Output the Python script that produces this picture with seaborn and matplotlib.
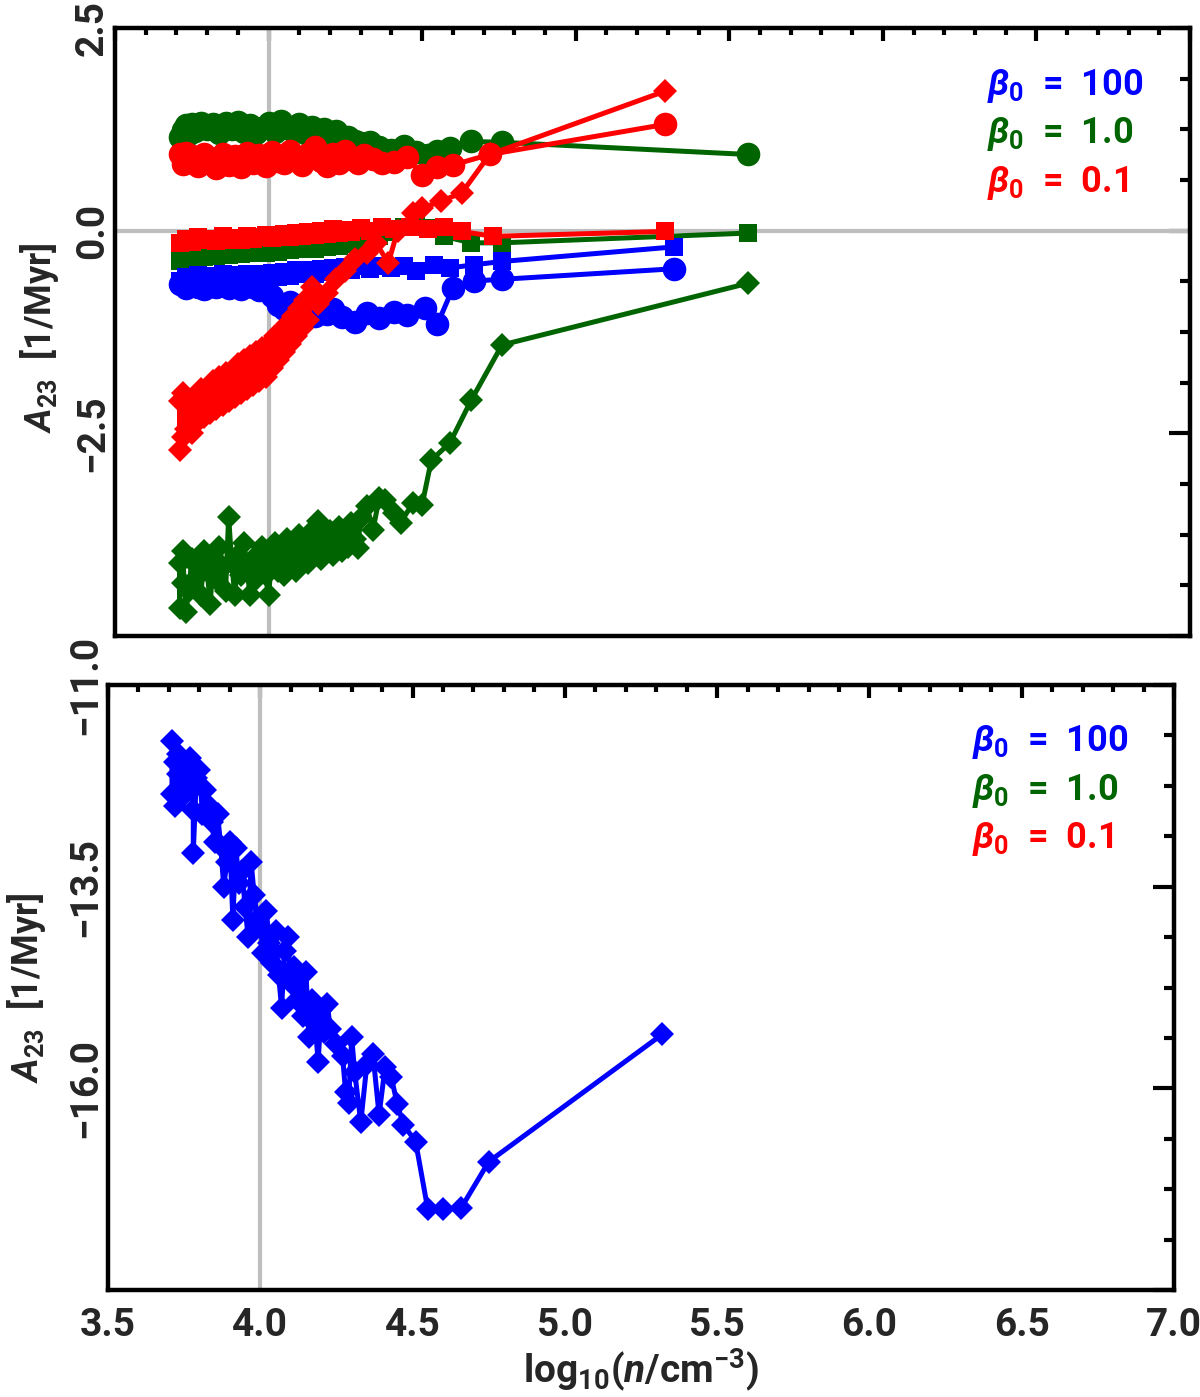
import numpy as np
import seaborn as sns
import matplotlib.pyplot as plt

sns.set_style("white")
plt.rcParams['font.family'] = ['Roboto', 'DejaVu Sans']
plt.rcParams['font.weight'] = 'bold'
plt.rcParams['mathtext.fontset'] = 'custom'
plt.rcParams['mathtext.rm'] = 'Roboto:bold'
plt.rcParams['mathtext.it'] = 'Roboto:bold:italic'
plt.rcParams['mathtext.bf'] = 'Roboto:bold'

BLUE = '#0000ff'
GREEN = '#006400'
RED = '#ff0000'
GRAY = '#bebebe'

# ---- top panel: beta0 = 1.0 circles
g_circ_x = [3.71, 3.72, 3.73, 3.74, 3.75, 3.76, 3.78, 3.80, 3.82, 3.84, 3.86, 3.88, 3.90, 3.92,
            3.94, 3.96, 3.98, 4.00, 4.02, 4.04, 4.06, 4.08, 4.10, 4.12, 4.14, 4.16, 4.18, 4.20,
            4.22, 4.24, 4.26, 4.28, 4.30, 4.33, 4.36, 4.40, 4.44, 4.48, 4.52, 4.55, 4.59, 4.66,
            4.76, 5.56]
g_circ_y = [1.16, 1.24, 1.30, 1.19, 1.31, 1.23, 1.33, 1.25, 1.32, 1.21, 1.33, 1.25, 1.34, 1.22,
            1.30, 1.20, 1.27, 1.33, 1.22, 1.35, 1.27, 1.23, 1.31, 1.21, 1.28, 1.19, 1.26, 1.17,
            1.23, 1.16, 1.15, 1.11, 1.08, 1.09, 1.03, 1.00, 1.04, 0.97, 0.93, 0.98, 1.02, 1.10,
            1.09, 0.94]

# beta0 = 0.1 circles
r_circ_x = [3.71, 3.72, 3.73, 3.74, 3.75, 3.77, 3.79, 3.81, 3.83, 3.85, 3.87, 3.89, 3.91, 3.93,
            3.95, 3.97, 3.99, 4.01, 4.03, 4.05, 4.07, 4.09, 4.11, 4.13, 4.15, 4.17, 4.19, 4.21,
            4.23, 4.25, 4.27, 4.29, 4.31, 4.34, 4.37, 4.41, 4.45, 4.50, 4.55, 4.60, 4.72, 5.29]
r_circ_y = [0.94, 0.82, 0.96, 0.85, 0.92, 0.80, 0.95, 0.83, 0.77, 0.94, 0.81, 0.92, 0.79, 0.96,
            0.84, 0.93, 0.80, 0.97, 0.86, 0.83, 0.98, 0.89, 0.81, 0.94, 1.03, 0.86, 0.80, 0.95,
            0.84, 0.98, 0.88, 0.83, 0.93, 0.88, 0.83, 0.85, 0.91, 0.69, 0.79, 0.81, 0.94, 1.31]

# beta0 = 0.1 squares
r_sq_x = [3.71, 3.73, 3.75, 3.77, 3.79, 3.81, 3.83, 3.85, 3.87, 3.89, 3.91, 3.93, 3.95, 3.97,
          3.99, 4.01, 4.03, 4.05, 4.07, 4.09, 4.11, 4.13, 4.15, 4.17, 4.19, 4.21, 4.23, 4.25,
          4.27, 4.30, 4.33, 4.37, 4.41, 4.46, 4.52, 4.57, 4.63, 4.73, 5.29]
r_sq_y = [-0.15, -0.10, -0.14, -0.08, -0.12, -0.10, -0.13, -0.07, -0.11, -0.09, -0.12, -0.06,
          -0.10, -0.08, -0.05, -0.09, -0.06, -0.04, -0.08, -0.03, -0.06, -0.02, -0.05, 0.00,
          -0.04, 0.02, -0.03, 0.01, -0.02, 0.03, 0.00, 0.04, 0.02, 0.05, 0.02, 0.04, -0.01,
          -0.07, -0.01]

# beta0 = 1.0 squares
g_sq_x = [3.71, 3.73, 3.75, 3.77, 3.79, 3.81, 3.83, 3.85, 3.87, 3.89, 3.91, 3.93, 3.95, 3.97,
          3.99, 4.01, 4.03, 4.05, 4.07, 4.09, 4.11, 4.13, 4.15, 4.17, 4.19, 4.21, 4.23, 4.25,
          4.27, 4.30, 4.33, 4.36, 4.40, 4.44, 4.48, 4.52, 4.57, 4.66, 4.76, 5.56]
g_sq_y = [-0.38, -0.32, -0.35, -0.30, -0.33, -0.28, -0.31, -0.27, -0.30, -0.26, -0.29, -0.25,
          -0.28, -0.24, -0.27, -0.23, -0.26, -0.22, -0.24, -0.21, -0.23, -0.19, -0.22, -0.18,
          -0.20, -0.17, -0.19, -0.15, -0.17, -0.13, -0.10, -0.06, -0.02, 0.05, 0.07, 0.03,
          -0.07, -0.15, -0.15, -0.03]

# beta0 = 100 squares
b_sq_x = [3.71, 3.73, 3.75, 3.77, 3.79, 3.81, 3.83, 3.85, 3.87, 3.89, 3.91, 3.93, 3.95, 3.97,
          3.99, 4.01, 4.03, 4.05, 4.07, 4.09, 4.11, 4.13, 4.15, 4.17, 4.19, 4.21, 4.23, 4.25,
          4.27, 4.30, 4.33, 4.36, 4.40, 4.44, 4.48, 4.54, 4.59, 4.67, 4.76, 5.32]
b_sq_y = [-0.62, -0.57, -0.65, -0.55, -0.61, -0.56, -0.63, -0.54, -0.60, -0.55, -0.61, -0.53,
          -0.59, -0.54, -0.58, -0.52, -0.57, -0.51, -0.56, -0.49, -0.54, -0.48, -0.53, -0.47,
          -0.51, -0.46, -0.50, -0.45, -0.49, -0.44, -0.47, -0.43, -0.46, -0.43, -0.50, -0.42,
          -0.46, -0.42, -0.38, -0.20]

# beta0 = 100 circles
b_circ_x = [3.71, 3.73, 3.75, 3.77, 3.79, 3.81, 3.83, 3.85, 3.87, 3.89, 3.91, 3.93, 3.95, 3.97,
            3.99, 4.01, 4.03, 4.05, 4.07, 4.09, 4.11, 4.13, 4.15, 4.17, 4.19, 4.21, 4.24, 4.28,
            4.32, 4.36, 4.41, 4.45, 4.51, 4.55, 4.60, 4.67, 4.76, 5.32]
b_circ_y = [-0.66, -0.71, -0.64, -0.69, -0.72, -0.65, -0.70, -0.66, -0.71, -0.67, -0.72, -0.66,
            -0.70, -0.73, -0.68, -0.80, -0.92, -0.97, -0.88, -1.01, -0.93, -0.99, -1.05, -0.95,
            -1.03, -0.97, -1.07, -1.13, -1.02, -1.08, -1.00, -1.04, -0.95, -1.15, -0.71, -0.62,
            -0.60, -0.47]

# beta0 = 0.1 diamonds
r_dia_x = [3.71, 3.71, 3.72, 3.72, 3.73, 3.74, 3.75, 3.76, 3.77, 3.78, 3.79, 3.80, 3.81, 3.82,
           3.83, 3.84, 3.85, 3.86, 3.87, 3.88, 3.89, 3.90, 3.91, 3.92, 3.93, 3.94, 3.95, 3.96,
           3.97, 3.98, 3.99, 4.00, 4.01, 4.02, 4.03, 4.04, 4.05, 4.06, 4.07, 4.08, 4.09, 4.10,
           4.11, 4.12, 4.13, 4.14, 4.16, 4.19, 4.22, 4.25, 4.28, 4.32, 4.35, 4.39, 4.42, 4.47,
           4.50, 4.56, 4.63, 4.72, 5.29]
r_dia_y = [-2.70, -2.10, -2.55, -2.00, -2.45, -2.15, -2.50, -2.05, -2.35, -1.95, -2.30, -2.00,
           -2.25, -1.85, -2.20, -1.80, -2.15, -1.75, -2.10, -1.75, -2.05, -1.65, -2.00, -1.60,
           -1.95, -1.55, -1.90, -1.50, -1.85, -1.45, -1.80, -1.40, -1.70, -1.30, -1.60, -1.25,
           -1.50, -1.15, -1.40, -1.05, -1.30, -0.95, -1.20, -0.85, -1.10, -0.69, -0.90, -0.77,
           -0.60, -0.50, -0.35, -0.27, -0.15, -0.40, 0.00, 0.22, 0.28, 0.36, 0.47, 0.94, 1.72]

# beta0 = 1.0 diamonds
g_dia_x = [3.71, 3.71, 3.72, 3.72, 3.73, 3.74, 3.75, 3.76, 3.77, 3.78, 3.79, 3.80, 3.81, 3.82,
           3.83, 3.84, 3.85, 3.86, 3.87, 3.88, 3.89, 3.90, 3.91, 3.92, 3.93, 3.94, 3.95, 3.96,
           3.97, 3.98, 3.99, 4.00, 4.01, 4.02, 4.03, 4.04, 4.05, 4.06, 4.07, 4.08, 4.09, 4.10,
           4.11, 4.12, 4.13, 4.14, 4.15, 4.16, 4.17, 4.18, 4.19, 4.20, 4.21, 4.22, 4.23, 4.24,
           4.25, 4.26, 4.27, 4.28, 4.29, 4.30, 4.32, 4.34, 4.36, 4.38, 4.41, 4.43, 4.47, 4.50,
           4.53, 4.59, 4.66, 4.76, 5.56]
g_dia_y = [-4.65, -4.10, -4.35, -3.95, -4.70, -4.45, -4.05, -4.30, -4.15, -4.50, -3.95, -4.20,
           -4.60, -4.05, -4.30, -3.90, -4.15, -4.45, -3.53, -4.10, -4.50, -4.00, -4.25, -3.85,
           -4.20, -4.50, -4.05, -4.30, -4.10, -3.90, -4.25, -4.50, -4.05, -3.85, -4.20, -3.95,
           -4.25, -3.80, -4.10, -3.90, -4.20, -3.75, -4.05, -3.85, -4.10, -3.70, -3.95, -3.58,
           -4.05, -3.80, -3.95, -3.70, -4.00, -3.85, -3.65, -3.95, -3.75, -3.90, -3.60, -3.80,
           -3.91, -3.55, -3.40, -3.69, -3.30, -3.32, -3.48, -3.60, -3.36, -3.38, -2.83, -2.62,
           -2.09, -1.41, -0.65]

# ---- bottom panel: beta0 = 100 diamonds
b_dia_x = [3.71, 3.71, 3.72, 3.72, 3.73, 3.73, 3.74, 3.75, 3.76, 3.77, 3.78, 3.78, 3.79, 3.80,
           3.81, 3.82, 3.83, 3.84, 3.85, 3.86, 3.87, 3.88, 3.89, 3.90, 3.91, 3.92, 3.93, 3.94,
           3.95, 3.96, 3.97, 3.98, 3.99, 4.00, 4.01, 4.02, 4.03, 4.04, 4.05, 4.06, 4.07, 4.08,
           4.09, 4.10, 4.11, 4.12, 4.13, 4.14, 4.15, 4.16, 4.17, 4.18, 4.19, 4.20, 4.21, 4.22,
           4.23, 4.25, 4.27, 4.28, 4.29, 4.30, 4.31, 4.33, 4.35, 4.37, 4.39, 4.41, 4.43, 4.45,
           4.47, 4.51, 4.55, 4.60, 4.66, 4.75, 5.32]
b_dia_y = [-11.70, -12.35, -11.95, -12.50, -12.10, -11.85, -12.40, -12.00, -12.30, -11.90,
           -12.55, -13.08, -12.15, -12.05, -12.60, -12.30, -12.50, -12.70, -12.95, -12.60,
           -13.00, -13.50, -13.20, -12.95, -13.91, -13.02, -13.45, -13.30, -13.75, -14.12,
           -13.20, -13.60, -13.90, -14.00, -14.32, -13.80, -14.20, -14.45, -14.05, -14.60,
           -15.00, -14.30, -14.12, -14.70, -14.50, -14.90, -14.60, -15.10, -14.56, -15.36,
           -14.90, -15.20, -15.67, -15.03, -15.30, -14.95, -15.27, -15.45, -15.60, -16.04,
           -16.18, -15.36, -15.80, -16.42, -15.70, -15.58, -16.33, -15.73, -15.86, -16.20,
           -16.45, -16.66, -17.50, -17.50, -17.48, -16.91, -15.33]

beta_labels = [r'$\beta_0$  =  100', r'$\beta_0$  =  1.0', r'$\beta_0$  =  0.1']
beta_colors = [BLUE, GREEN, RED]

fig = plt.figure(figsize=(12, 13.97), dpi=100)
ax1 = fig.add_axes([115 / 1200, 1 - 636 / 1397, 1075 / 1200, 608 / 1397])
ax2 = fig.add_axes([108 / 1200, 1 - 1290 / 1397, 1066 / 1200, 605 / 1397])

top_series = [
    (g_circ_x, g_circ_y, GREEN, 'o', 17),
    (r_circ_x, r_circ_y, RED, 'o', 17),
    (b_circ_x, b_circ_y, BLUE, 'o', 17),
    (g_sq_x, g_sq_y, GREEN, 's', 13.5),
    (b_sq_x, b_sq_y, BLUE, 's', 13.5),
    (r_sq_x, r_sq_y, RED, 's', 13.5),
    (g_dia_x, g_dia_y, GREEN, 'D', 12),
    (r_dia_x, r_dia_y, RED, 'D', 12),
]

ax1.axvline(4.0, color=GRAY, lw=3, zorder=1)
ax1.axhline(0.0, color=GRAY, lw=3, zorder=1)
for xs, ys, c, m, ms in top_series:
    sns.lineplot(x=xs, y=ys, ax=ax1, color=c, marker=m, markersize=ms, markeredgewidth=0,
                 linewidth=3.6, estimator=None, sort=False, zorder=3)

ax2.axvline(4.0, color=GRAY, lw=3, zorder=1)
sns.lineplot(x=b_dia_x, y=b_dia_y, ax=ax2, color=BLUE, marker='D', markersize=12,
             markeredgewidth=0, linewidth=3.6, estimator=None, sort=False, zorder=3)


def fmt(v):
    return ('%.1f' % v).replace('-', '\u2212')


for ax, ylim, major, tx in [(ax1, (-5.0, 2.5), [2.5, 0.0, -2.5], 0.811),
                            (ax2, (-18.5, -11.0), [-11.0, -13.5, -16.0], 0.8105)]:
    ax.set_xlim(3.5, 7.0)
    ax.set_ylim(*ylim)
    ax.set_xticks(np.arange(3.5, 7.01, 0.5))
    ax.set_xticks(np.arange(3.5, 7.01, 0.1), minor=True)
    ymaj = np.arange(ylim[0], ylim[1] + 0.01, 2.5)
    ax.set_yticks(ymaj)
    ax.set_yticks(np.arange(ylim[0], ylim[1] + 0.01, 0.625), minor=True)
    ax.set_yticklabels([fmt(v) if v in major else '' for v in ymaj])
    ax.set_xticklabels([fmt(v) for v in np.arange(3.5, 7.01, 0.5)])
    ax.tick_params(axis='both', which='both', direction='in', top=True, right=True,
                   width=3, color='black')
    ax.tick_params(axis='x', which='major', length=9)
    ax.tick_params(axis='x', which='minor', length=5)
    ax.tick_params(axis='y', which='major', length=15)
    ax.tick_params(axis='y', which='minor', length=7.5)
    ax.tick_params(axis='both', labelsize=28)
    ax.tick_params(axis='x', pad=12)
    ax.tick_params(axis='y', pad=3, labelrotation=90)
    for lab in ax.get_yticklabels():
        lab.set_va('center')
    for sp in ax.spines.values():
        sp.set_linewidth(3.2)
        sp.set_color('black')
    ax.set_ylabel(r'$A_{23}$  [1/Myr]', fontsize=26, fontweight='bold')
    for i, (t, c) in enumerate(zip(beta_labels, beta_colors)):
        ax.text(tx, 0.905 - 0.08 * i, t, color=c, fontsize=26, fontweight='bold',
                transform=ax.transAxes, ha='left', va='center')

ax1.set_xticklabels([])
ax1.set_xlabel('')
ax1.yaxis.set_label_coords(-0.05, 0.49)
ax2.yaxis.set_label_coords(-0.056, 0.5)
ax2.set_xlabel(r'log$_{10}$($n$/cm$^{-3}$)', fontsize=28, fontweight='bold', labelpad=2)

fig.savefig('out.png', dpi=100)
